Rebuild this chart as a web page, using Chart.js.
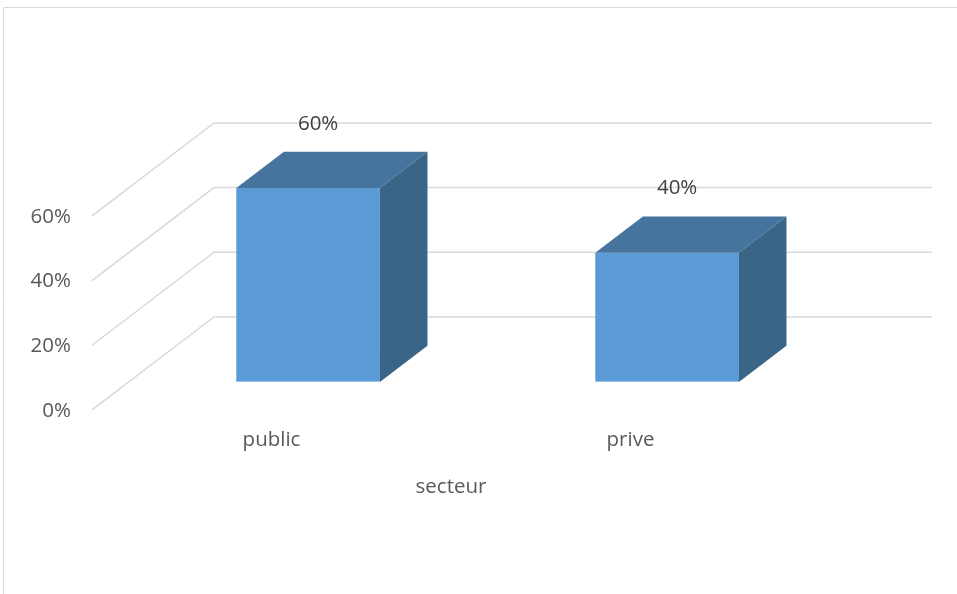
<!DOCTYPE html>
<html lang="fr">
<head>
<meta charset="utf-8">
<title>secteur</title>
<script src="https://cdn.jsdelivr.net/npm/chart.js@4/dist/chart.umd.min.js"></script>
<style>
  html, body { margin: 0; padding: 0; background: #ffffff; overflow: hidden; }
  #chart { display: block; }
</style>
</head>
<body>
<canvas id="chart" width="957" height="594"></canvas>
<script>
// ─── Data ────────────────────────────────────────────────────────────────────
const categories = ['public', 'prive'];
const shares = [60, 40];            // percent of respondents per sector
const tickValues = [0, 20, 40, 60]; // value axis ticks (percent)
const axisTitle = 'secteur';

// ─── Look ────────────────────────────────────────────────────────────────────
const FONT = '"Open Sans", "Liberation Sans", sans-serif';
const TEXT_COLOR = '#595959';
const VALUE_COLOR = '#404040';
const GRID_COLOR = '#d9d9d9';
const FACE_FRONT = '#5b9bd5';
const FACE_TOP = '#45759f';
const FACE_SIDE = '#3a6587';

// 3D box: full floor depth vector, and where the bars sit inside it
const DEPTH_X = 122;
const DEPTH_Y = 93;
const BAR_FRONT = 0.3;   // fraction of floor depth in front of the bars
const BAR_DEPTH = 0.39;  // fraction of floor depth taken by a bar

function pct(v) {
  return v + '%';
}

/**
 * Draws the walls, the depth faces of the bars and every label.
 * The chart area itself is the vertical plane holding the bars' front faces.
 */
const box3d = {
  id: 'box3d',

  beforeDraw(chart) {
    const { ctx } = chart;
    // outer frame (only the top and left edges are in view)
    ctx.save();
    ctx.strokeStyle = GRID_COLOR;
    ctx.lineWidth = 1;
    ctx.beginPath();
    ctx.moveTo(3.5, chart.height);
    ctx.lineTo(3.5, 7.5);
    ctx.lineTo(chart.width, 7.5);
    ctx.stroke();
    ctx.restore();
  },

  beforeDatasetsDraw(chart) {
    const { ctx, chartArea } = chart;
    const y = chart.scales.y;
    const front = { dx: -BAR_FRONT * DEPTH_X, dy: BAR_FRONT * DEPTH_Y };
    const back = { dx: (1 - BAR_FRONT) * DEPTH_X, dy: -(1 - BAR_FRONT) * DEPTH_Y };

    ctx.save();
    ctx.strokeStyle = GRID_COLOR;
    ctx.lineWidth = 1.5;
    tickValues.forEach((v) => {
      const py = y.getPixelForValue(v);
      ctx.beginPath();
      ctx.moveTo(chartArea.left + front.dx, py + front.dy);
      ctx.lineTo(chartArea.left + back.dx, py + back.dy);
      ctx.lineTo(chartArea.right + back.dx, py + back.dy);
      ctx.stroke();
    });

    // value axis labels on the front edge of the side wall
    ctx.fillStyle = TEXT_COLOR;
    ctx.font = '20.5px ' + FONT;
    ctx.textAlign = 'right';
    ctx.textBaseline = 'middle';
    tickValues.forEach((v) => {
      const py = y.getPixelForValue(v);
      ctx.fillText(pct(v), chartArea.left + front.dx - 21, py + front.dy + 1);
    });
    ctx.restore();
  },

  afterDatasetsDraw(chart) {
    const { ctx, chartArea } = chart;
    const y = chart.scales.y;
    const dx = BAR_DEPTH * DEPTH_X;
    const dy = BAR_DEPTH * DEPTH_Y;
    const frontDx = -BAR_FRONT * DEPTH_X;
    const frontDy = BAR_FRONT * DEPTH_Y;

    ctx.save();
    chart.getDatasetMeta(0).data.forEach((bar, i) => {
      const { x, y: top, base, width } = bar.getProps(['x', 'y', 'base', 'width'], true);
      const l = x - width / 2;
      const r = x + width / 2;

      // top face
      ctx.fillStyle = FACE_TOP;
      ctx.beginPath();
      ctx.moveTo(l, top);
      ctx.lineTo(r, top);
      ctx.lineTo(r + dx, top - dy);
      ctx.lineTo(l + dx, top - dy);
      ctx.closePath();
      ctx.fill();

      // right side face
      ctx.fillStyle = FACE_SIDE;
      ctx.beginPath();
      ctx.moveTo(r, top);
      ctx.lineTo(r + dx, top - dy);
      ctx.lineTo(r + dx, base - dy);
      ctx.lineTo(r, base);
      ctx.closePath();
      ctx.fill();

      // faint light edge along the bottom of the front face
      ctx.strokeStyle = '#9cc2e8';
      ctx.lineWidth = 1;
      ctx.beginPath();
      ctx.moveTo(l, base - 0.5);
      ctx.lineTo(r, base - 0.5);
      ctx.stroke();

      ctx.font = '20.5px ' + FONT;
      ctx.textAlign = 'center';
      ctx.textBaseline = 'middle';

      // value label, level with the value on the back wall
      ctx.fillStyle = VALUE_COLOR;
      const backY = y.getPixelForValue(shares[i]) - (1 - BAR_FRONT) * DEPTH_Y;
      ctx.fillText(pct(shares[i]), x + 10, backY + 1);

      // category label on the front edge of the floor
      ctx.fillStyle = TEXT_COLOR;
      ctx.fillText(categories[i], x + frontDx, base + frontDy + 30);
    });

    // axis title centred under the floor
    const floorLeft = chartArea.left + frontDx;
    const floorRight = chartArea.right + frontDx;
    ctx.fillStyle = TEXT_COLOR;
    ctx.font = '20.5px ' + FONT;
    ctx.textAlign = 'center';
    ctx.textBaseline = 'middle';
    ctx.fillText(axisTitle, (floorLeft + floorRight) / 2, chartArea.bottom + frontDy + 77);
    ctx.restore();
  },
};

const chart = new Chart(document.getElementById('chart'), {
  type: 'bar',
  data: {
    labels: categories,
    datasets: [
      {
        data: shares,
        backgroundColor: FACE_FRONT,
        borderWidth: 0,
        categoryPercentage: 1,
        barPercentage: 0.4,
      },
    ],
  },
  options: {
    responsive: false,
    animation: false,
    events: [],
    layout: {
      padding: { left: 128.6, right: 110.4, top: 188, bottom: 212 },
    },
    scales: {
      x: { display: false },
      y: { display: false, min: 0, max: 60 },
    },
    plugins: {
      legend: { display: false },
      tooltip: { enabled: false },
    },
  },
  plugins: [box3d],
});
</script>
</body>
</html>
